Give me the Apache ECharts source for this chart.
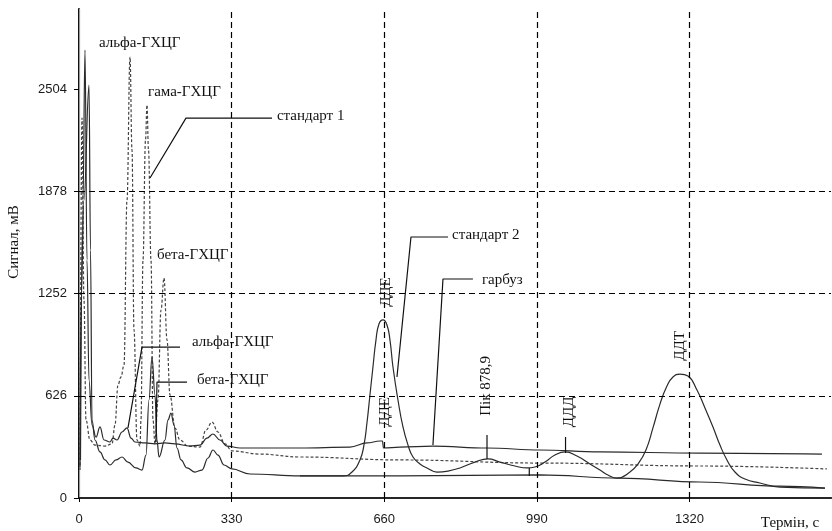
<!DOCTYPE html>
<html>
<head>
<meta charset="utf-8">
<style>
  html, body { margin: 0; height: 100%; background: #fff; }
  #container { width: 832px; height: 531px; }
</style>
</head>
<body>
<div id="container"></div>
<script src="https://cdn.jsdelivr.net/npm/echarts@6/dist/echarts.min.js"></script>
<script>
// axis ticks / grid
var xTicks = [0, 330, 660, 990, 1320];
var yTicks = [0, 626, 1252, 1878, 2504];
var gridX = [330, 660, 990, 1320];
var gridY = [626, 1252, 1878];

// стандарт 1 (dashed)
var std1X = [2.2, 6.5, 10.8, 15.1, 23.8, 34.6, 56.2, 71.3, 77.8, 84.3, 90.8, 97.3, 103.8, 110.3, 114.6, 118.9, 125.4, 131.9, 134.0, 138.4, 143.8, 147.0, 150.3, 155.7, 160.0, 164.3, 170.8, 177.3, 183.8, 190.3, 196.7, 207.6, 218.4, 235.7, 261.6, 274.6, 287.5, 300.5, 315.7, 330.8, 391.3, 477.8, 694, 997, 1343, 1617];
var std1Y = [171, 2326, 1212, 478, 355, 324, 318, 331, 447, 692, 741, 814, 1824, 2700, 2130, 1029, 355, 318, 478, 1457, 2192, 2406, 2130, 1457, 478, 331, 600, 1151, 1347, 967, 631, 428, 355, 318, 312, 416, 465, 404, 331, 288, 269, 251, 233, 214, 196, 178];

// гарбуз (upper solid)
var pumpX = [3.2, 8.6, 13.0, 17.3, 21.6, 28.1, 36.8, 45.4, 54.1, 67.0, 73.5, 82.2, 93.0, 103.8, 112.4, 121.1, 142.7, 164.3, 185.9, 207.6, 240.0, 261.6, 276.7, 289.7, 304.8, 320.0, 348.1, 477.8, 585.9, 622.7, 650.8, 656.2, 658.3, 694.0, 765.3, 882.1, 996.7, 1126.4, 1342.6, 1606.4];
var pumpY = [233, 1824, 2743, 1457, 722, 447, 373, 435, 355, 343, 367, 355, 404, 429, 367, 343, 337, 331, 337, 331, 318, 324, 367, 392, 355, 318, 306, 306, 312, 337, 349, 349, 306, 312, 318, 306, 294, 282, 275, 269];

// lower solid curve
var lowX = [2.2, 4.3, 10.8, 21.6, 24.9, 28.1, 34.6, 45.4, 56.2, 67.0, 80.0, 93.0, 105.9, 123.2, 136.2, 144.9, 151.3, 157.8, 164.3, 168.6, 173.0, 185.9, 192.4, 198.9, 205.4, 211.9, 220.5, 233.5, 250.8, 265.9, 278.9, 289.7, 300.5, 313.5, 330.8, 369.7, 477.8, 694.0, 996.7, 1169.6, 1342.6, 1515.6, 1612.9];
var lowY = [190, 1212, 1824, 2528, 1518, 478, 355, 282, 233, 202, 233, 251, 220, 184, 171, 263, 600, 863, 631, 355, 251, 355, 478, 520, 447, 306, 233, 184, 159, 171, 245, 294, 263, 202, 178, 147, 135, 135, 141, 122, 98, 73, 61];

// стандарт 2 (ДДЕ, ДДД, ДДТ)
var std2X = [477.8, 570.8, 590.3, 607.5, 616.1, 622.6, 629.1, 635.6, 642.1, 648.6, 657.3, 665.9, 672.4, 678.9, 689.7, 700.5, 711.4, 722.2, 737.3, 752.4, 774.0, 797.8, 823.7, 856.2, 884.3, 910.2, 942.7, 968.6, 985.9, 1007.5, 1029.1, 1050.7, 1076.7, 1104.8, 1126.4, 1143.7, 1163.2, 1191.3, 1208.6, 1225.9, 1241.0, 1256.2, 1271.3, 1284.3, 1299.4, 1316.7, 1336.2, 1353.5, 1370.8, 1385.9, 1401.0, 1418.3, 1439.9, 1472.4, 1515.6, 1612.9];
var std2Y = [135, 135, 159, 233, 324, 459, 631, 802, 967, 1065, 1090, 1059, 967, 802, 600, 435, 324, 251, 208, 184, 159, 165, 184, 220, 239, 220, 196, 184, 190, 220, 263, 282, 257, 208, 171, 141, 122, 159, 208, 294, 429, 575, 686, 741, 759, 747, 661, 551, 435, 324, 233, 159, 116, 92, 67, 61];

// leader lines and peak marks, in data units
var leaders = [
  [[417.3, 2326], [231.3, 2326], [153.5, 1959]],
  [[797.8, 1598], [717.8, 1598], [687.5, 741]],
  [[851.8, 1341], [787.0, 1341], [765.3, 324]],
  [[218.4, 924], [136.2, 924], [105.9, 429]],
  [[233.5, 710], [168.6, 710], [166.5, 343]],
  [[882.2, 386], [882.2, 239]],
  [[973.6, 184], [973.6, 135]],
  [[1052, 373], [1052, 276]]
];

// annotations: text, x, y, rotated
var labels = [
  ['альфа-ГХЦГ', 43.2, 2786, 0],
  ['гама-ГХЦГ', 149.2, 2486, 0],
  ['стандарт 1', 428, 2339, 0],
  ['бета-ГХЦГ', 168.6, 1488, 0],
  ['стандарт 2', 806.5, 1610, 0],
  ['гарбуз', 871.3, 1335, 0],
  ['альфа-ГХЦГ', 244.3, 955, 0],
  ['бета-ГХЦГ', 255.1, 722, 0],
  ['ДДЕ', 663.8, 1261, 1],
  ['ДДЕ', 661.6, 527, 1],
  ['Пік 878,9', 881, 686, 1],
  ['ДДД', 1059, 527, 1],
  ['ДДТ', 1299, 931, 1]
];

var X_MAX = 1626, Y_MAX = 2994;
var serif = '"Liberation Serif", "DejaVu Serif", serif';
var sans = '"Liberation Sans", Arial, sans-serif';

function pairs(xs, ys) {
  return xs.map(function (x, i) { return [x, ys[i]]; });
}
function plain(v) { return String(v); }

var dom = document.getElementById('container');
var myChart = echarts.init(dom, null, { renderer: 'canvas' });

var curveStyle = { color: '#2a2a2a', width: 1.2 };

var series = [
  {
    type: 'line', name: 'стандарт 1', data: pairs(std1X, std1Y),
    symbol: 'none', smooth: 0.4, smoothMonotone: 'x',
    lineStyle: { color: '#444', width: 1.2, type: [3, 2] }, z: 3
  },
  {
    type: 'line', name: 'гарбуз', data: pairs(pumpX, pumpY),
    symbol: 'none', smooth: 0.4, smoothMonotone: 'x', lineStyle: curveStyle, z: 3
  },
  {
    type: 'line', name: 'нижня', data: pairs(lowX, lowY),
    symbol: 'none', smooth: 0.4, smoothMonotone: 'x', lineStyle: curveStyle, z: 3,
    markLine: {
      silent: true, symbol: 'none', label: { show: false },
      lineStyle: { color: '#000', type: [6, 4], width: 1.2 },
      data: gridX.map(function (v) { return { xAxis: v }; })
        .concat(gridY.map(function (v) { return { yAxis: v }; }))
    }
  },
  {
    type: 'line', name: 'стандарт 2', data: pairs(std2X, std2Y),
    symbol: 'none', smooth: 0.5, lineStyle: curveStyle, z: 3
  }
];

leaders.forEach(function (pts) {
  series.push({
    type: 'line', data: pts, symbol: 'none', silent: true,
    lineStyle: { color: '#111', width: 1.2 }, z: 4
  });
});

option = {
  animation: false,
  backgroundColor: '#fff',
  grid: { left: 79, right: 1, top: 9, bottom: 33 },
  xAxis: [
    {
      type: 'value', min: 0, max: X_MAX, position: 'bottom',
      axisLine: { lineStyle: { color: '#000', width: 2 } },
      axisTick: { show: true, length: 4, customValues: xTicks, lineStyle: { color: '#000' } },
      axisLabel: { customValues: xTicks, formatter: plain, margin: 15, fontSize: 13, fontFamily: sans, color: '#1a1a1a' },
      splitLine: { show: false }
    },
    {
      type: 'value', min: 0, max: X_MAX, position: 'top',
      axisLine: { lineStyle: { color: '#333', width: 1.5 } },
      axisTick: { show: false }, axisLabel: { show: false }, splitLine: { show: false }
    }
  ],
  yAxis: [
    {
      type: 'value', min: 0, max: Y_MAX, position: 'left',
      axisLine: { show: true, lineStyle: { color: '#000', width: 2 } },
      axisTick: { show: true, length: 5, customValues: yTicks, lineStyle: { color: '#000' } },
      axisLabel: { customValues: yTicks, formatter: plain, margin: 12, fontSize: 13, fontFamily: sans, color: '#1a1a1a' },
      splitLine: { show: false }
    },
    {
      type: 'value', min: 0, max: Y_MAX, position: 'right',
      axisLine: { show: true, lineStyle: { color: '#999', width: 1.2 } },
      axisTick: { show: false }, axisLabel: { show: false }, splitLine: { show: false }
    }
  ],
  series: series
};

myChart.setOption(option, true);

// texts placed through the chart's own scales
var texts = labels.map(function (l) {
  var p = myChart.convertToPixel({ gridIndex: 0 }, [l[1], l[2]]);
  return {
    type: 'text', x: p[0], y: p[1], rotation: l[3] ? Math.PI / 2 : 0, z: 10,
    style: {
      text: l[0], fill: '#111', font: '15px ' + serif,
      align: l[3] ? 'center' : 'left', verticalAlign: 'middle'
    }
  };
});
texts.push({
  type: 'text', x: 14, y: 242, rotation: Math.PI / 2, z: 10,
  style: { text: 'Сигнал, мВ', fill: '#111', font: '15px ' + serif, align: 'center', verticalAlign: 'middle' }
});
texts.push({
  type: 'text', x: 790, y: 523, z: 10,
  style: { text: 'Термін, с', fill: '#111', font: '15px ' + serif, align: 'center', verticalAlign: 'middle' }
});
myChart.setOption({ graphic: texts });
</script>
</body>
</html>
